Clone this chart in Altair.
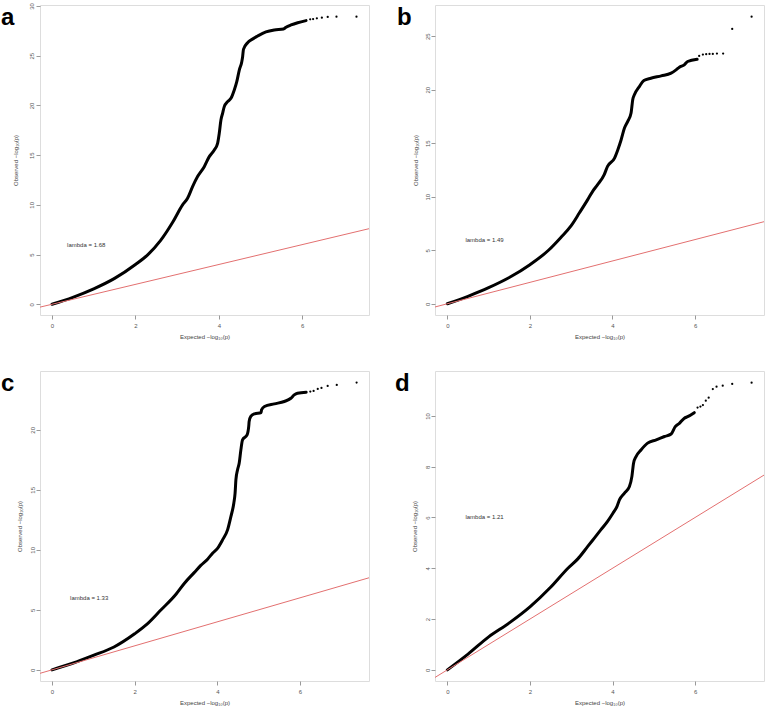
import altair as alt
import pandas as pd

FONT = "Liberation Sans"

# ---------------- panel a ----------------
a_exp = [0.00, 0.50, 1.00, 1.50, 2.00, 2.30, 2.60, 2.90, 3.13, 3.25, 3.37, 3.49, 3.65, 3.77,
         3.89, 3.97, 4.01, 4.05, 4.09, 4.13, 4.21, 4.29, 4.37, 4.43, 4.49, 4.55, 4.57, 4.59,
         4.69, 4.77, 4.93, 5.13, 5.33, 5.55, 5.61, 5.73, 5.89, 6.09]
a_obs = [0.00, 0.70, 1.55, 2.60, 4.00, 5.00, 6.40, 8.30, 10.00, 10.66, 11.83, 12.84, 13.84, 14.85,
         15.52, 16.19, 17.20, 18.54, 19.21, 19.88, 20.38, 20.71, 21.55, 22.39, 23.56, 24.40, 24.90, 25.64,
         26.31, 26.58, 26.98, 27.39, 27.59, 27.69, 27.86, 28.09, 28.32, 28.53]
a_tail_exp = [6.19, 6.26, 6.35, 6.47, 6.61, 6.82, 7.30]
a_tail_obs = [28.66, 28.69, 28.76, 28.83, 28.90, 28.93, 28.93]

# ---------------- panel b ----------------
b_exp = [0.00, 0.50, 1.00, 1.50, 2.00, 2.45, 2.75, 3.00, 3.20, 3.40, 3.52, 3.64, 3.80, 3.88,
         4.05, 4.13, 4.21, 4.29, 4.37, 4.45, 4.47, 4.49, 4.53, 4.65, 4.76, 4.93, 5.18, 5.42,
         5.54, 5.62, 5.74, 5.82, 6.05]
b_obs = [0.00, 0.70, 1.50, 2.45, 3.65, 5.00, 6.20, 7.30, 8.50, 9.73, 10.51, 11.13, 12.07, 12.84,
         13.62, 14.40, 15.33, 16.42, 17.04, 17.82, 18.44, 19.06, 19.53, 20.30, 20.86, 21.08, 21.30, 21.55,
         21.86, 22.11, 22.33, 22.64, 22.85]
b_tail_exp = [6.10, 6.19, 6.27, 6.35, 6.43, 6.53, 6.68, 6.90, 7.37]
b_tail_obs = [23.16, 23.29, 23.32, 23.35, 23.35, 23.38, 23.38, 25.68, 26.83]

# ---------------- panel c ----------------
c_exp = [0.00, 0.50, 1.00, 1.50, 2.00, 2.30, 2.64, 3.00, 3.20, 3.44, 3.60, 3.77, 3.89, 4.01,
         4.13, 4.25, 4.33, 4.40, 4.43, 4.45, 4.49, 4.53, 4.57, 4.61, 4.72, 4.76, 4.77, 4.81,
         4.90, 5.06, 5.07, 5.14, 5.38, 5.62, 5.78, 5.86, 5.94, 6.15]
c_obs = [0.00, 0.55, 1.20, 1.90, 3.00, 3.80, 5.00, 6.30, 7.20, 8.10, 8.70, 9.24, 9.74, 10.15,
         10.85, 11.68, 12.79, 13.90, 14.73, 15.84, 16.67, 17.23, 18.33, 19.17, 19.58, 20.28, 20.69, 21.11,
         21.33, 21.44, 21.66, 21.94, 22.16, 22.36, 22.63, 22.91, 23.05, 23.13]
c_tail_exp = [6.25, 6.33, 6.43, 6.52, 6.67, 6.89, 7.37]
c_tail_obs = [23.19, 23.24, 23.41, 23.49, 23.66, 23.74, 23.94]

# ---------------- panel d ----------------
d_exp = [0.00, 0.50, 1.00, 1.50, 2.00, 2.50, 2.92, 3.16, 3.40, 3.56, 3.72, 3.88, 4.01, 4.11,
         4.17, 4.29, 4.41, 4.47, 4.51, 4.57, 4.69, 4.85, 5.06, 5.26, 5.42, 5.52, 5.62, 5.74,
         5.82, 5.98]
d_obs = [0.00, 0.62, 1.30, 1.85, 2.48, 3.25, 4.00, 4.37, 4.86, 5.19, 5.52, 5.85, 6.17, 6.44,
         6.70, 6.96, 7.22, 7.62, 8.14, 8.40, 8.66, 8.93, 9.06, 9.19, 9.29, 9.58, 9.71, 9.91,
         9.97, 10.13]
d_tail_exp = [6.06, 6.13, 6.19, 6.26, 6.33, 6.43, 6.52, 6.67, 6.90, 7.37]
d_tail_obs = [10.33, 10.37, 10.43, 10.60, 10.72, 11.06, 11.15, 11.19, 11.26, 11.31]

letters = ["a", "b", "c", "d"]
lambdas = ["1.68", "1.49", "1.33", "1.21"]
lambda_x = [0.82, 0.90, 0.90, 0.90]
lambda_y = [6, 6, 6, 6]
x_ticks = [0, 2, 4, 6]
y_ticks_a = [0, 5, 10, 15, 20, 25, 30]
y_ticks_b = [0, 5, 10, 15, 20, 25]
y_ticks_c = [0, 5, 10, 15, 20]
y_ticks_d = [0, 2, 4, 6, 8, 10]

W, H = 329, 310


def panel(letter, exp, obs, t_exp, t_obs, lam, lx, ly, xdom, ydom, yticks, ytitle_pad, ylab_pad, letter_dx):
    xs = alt.Scale(domain=xdom, nice=False, zero=False)
    ys = alt.Scale(domain=ydom, nice=False, zero=False)
    xaxis = alt.Axis(values=x_ticks, title="Expected   \u2212log\u2081\u2080(p)", format="d",
                     grid=False, domain=False, ticks=True, tickSize=4, tickColor="#999999",
                     labelFontSize=6, labelColor="#555555", labelFont=FONT, labelPadding=3,
                     titleFontSize=6, titleFont=FONT, titleFontWeight="normal", titleColor="#444444",
                     titlePadding=5)
    yaxis = alt.Axis(values=yticks, title="Observed   \u2212log\u2081\u2080(p)", format="d",
                     grid=False, domain=False, ticks=True, tickSize=4, tickColor="#999999",
                     labelFontSize=6, labelColor="#555555", labelFont=FONT, labelAngle=270,
                     labelAlign="center", labelBaseline="bottom", labelPadding=ylab_pad,
                     titleFontSize=6, titleFont=FONT, titleFontWeight="normal", titleColor="#444444",
                     titlePadding=ytitle_pad)
    curve = pd.DataFrame({"e": exp, "o": obs})
    tail = pd.DataFrame({"e": t_exp, "o": t_obs})
    line = alt.Chart(curve).mark_line(color="black", strokeWidth=3.0, strokeCap="round",
                                      strokeJoin="round", interpolate="monotone").encode(
        x=alt.X("e:Q", scale=xs, axis=xaxis),
        y=alt.Y("o:Q", scale=ys, axis=yaxis),
    )
    pts = alt.Chart(tail).mark_circle(color="black", size=5, opacity=1).encode(
        x=alt.X("e:Q", scale=xs), y=alt.Y("o:Q", scale=ys))
    diag = alt.Chart(pd.DataFrame({"x": [-1.0], "y": [-1.0], "x2": [9.0], "y2": [9.0]})).mark_rule(
        color="#e37070", strokeWidth=1, clip=True).encode(
        x=alt.X("x:Q", scale=xs), y=alt.Y("y:Q", scale=ys), x2="x2:Q", y2="y2:Q")
    lamtxt = alt.Chart(pd.DataFrame({"x": [lx], "y": [ly], "t": ["lambda = " + lam]})).mark_text(
        fontSize=6, font=FONT, color="#333333").encode(
        x=alt.X("x:Q", scale=xs), y=alt.Y("y:Q", scale=ys), text="t:N")
    lett = alt.Chart(pd.DataFrame({"t": [letter]})).mark_text(
        fontSize=24, font=FONT, fontWeight="bold", color="black", align="left",
        baseline="alphabetic").encode(x=alt.value(letter_dx), y=alt.value(20), text="t:N")
    return alt.layer(line, pts, diag, lamtxt, lett).properties(width=W, height=H)


pa = panel(letters[0], a_exp, a_obs, a_tail_exp, a_tail_obs, lambdas[0], lambda_x[0], lambda_y[0],
           [-0.288, 7.60], [-1.08, 30.10], y_ticks_a, 10, 1.5, -39)
pb = panel(letters[1], b_exp, b_obs, b_tail_exp, b_tail_obs, lambdas[1], lambda_x[1], lambda_y[1],
           [-0.299, 7.67], [-1.05, 27.92], y_ticks_b, 6, 0.5, -38)
pc = panel(letters[2], c_exp, c_obs, c_tail_exp, c_tail_obs, lambdas[2], lambda_x[2], lambda_y[2],
           [-0.29, 7.67], [-0.93, 24.90], y_ticks_c, 7, 1.0, -39)
pd_ = panel(letters[3], d_exp, d_obs, d_tail_exp, d_tail_obs, lambdas[3], lambda_x[3], lambda_y[3],
            [-0.30, 7.67], [-0.44, 11.77], y_ticks_d, 7, 0.5, -40)

chart = alt.concat(pa, pb, pc, pd_, columns=2, spacing={"row": 56, "column": 66},
                   bounds="flush").properties(
    padding={"left": 0, "top": 2, "right": 0, "bottom": 0}
).configure_view(stroke="#a8a8a8", strokeWidth=1).configure(background="white")

chart.save("out.html", embed_options={"renderer": "svg", "actions": False})
